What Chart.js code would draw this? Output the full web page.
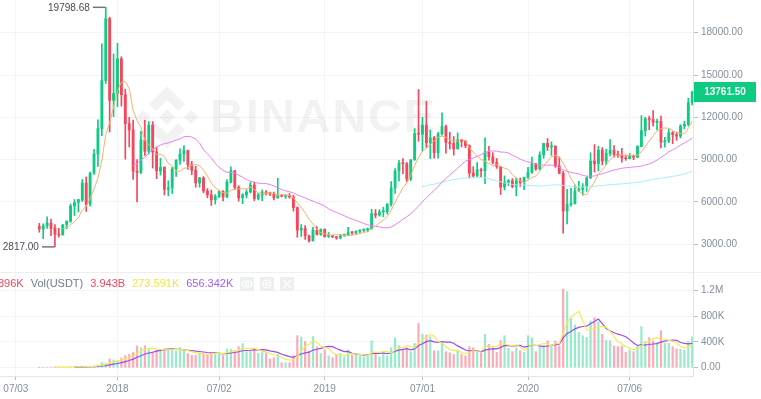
<!DOCTYPE html>
<html><head><meta charset="utf-8">
<script src="https://cdn.jsdelivr.net/npm/chart.js@4.4.1/dist/chart.umd.min.js"></script>
<style>
html,body{margin:0;padding:0;background:#fff;width:761px;height:399px;overflow:hidden}
.pane{position:absolute;left:0;width:761px}
</style></head><body>
<div class="pane" style="top:0;height:272px"><canvas id="pc" width="761" height="272"></canvas></div>
<div class="pane" style="top:272px;height:127px"><canvas id="vc" width="761" height="127"></canvas></div>
<script>
// ---- data (weekly BTC/USDT candles, first week starts 2017-08-14) ----
const firstWeek = '2017-08-14';
const opens = [4261,4069,4310,4505,4153,3690,3660,4400,4640,5710,
5975,6133,7345,5860,8057,9400,11200,14600,19000,13200,
13700,16150,13600,11550,11100,8180,8100,10400,9600,11450,
9550,8200,8450,6900,7000,8350,8950,9400,9650,8650,
8250,7350,7700,6780,6500,6150,6400,6750,6360,7400,
8220,7030,6300,6490,6700,7200,6250,6500,6700,6630,
6590,6300,6450,6400,6450,6350,5600,4000,4140,3600,
3250,4000,3700,4050,3550,3555,3540,3460,3650,3660,
3830,3810,3920,3990,4010,4100,5170,5070,5300,5310,
5830,7000,8200,8750,8720,7630,8990,10850,10800,11450,
10200,10550,9500,10820,11350,10220,10140,9760,10400,10300,
10000,8050,7850,8280,8220,9550,9200,8810,8500,7050,
7420,7500,7100,7510,7390,7760,8110,8700,8350,9340,
10150,9900,9950,8550,8040,5360,5820,5880,6780,6900,
7120,7700,8900,8720,9680,8900,9440,9660,9370,9290,
9120,9070,9250,9170,9930,11060,11900,11850,11650,11700,
10250,10330,10920,10770,10670,11380,11500,13030];
const highs = [4485,4453,4939,4788,4395,4123,4406,4658,5856,6171,
6190,7590,7777,8123,9736,11825,17204,19798.68,19100,16500,
17250,16300,14000,12000,11800,9000,11000,11780,11700,11700,
9900,9100,8500,7500,8450,9000,9760,9990,9680,8880,
8530,7750,7800,6950,6850,6530,6800,6800,7580,8500,
8230,7150,6600,6880,7410,7400,6610,6850,6800,6700,
6700,7680,6540,6500,6600,6480,5650,4400,4330,3650,
4200,4250,4100,4100,3840,3640,3560,3700,3720,4200,
3900,3950,4050,4100,4150,5480,5470,5460,5630,5900,
7450,8370,8950,9080,8800,9000,11200,13970,12000,13130,
11100,10650,10930,12320,11450,10950,10640,10900,10450,10360,
10050,8500,8800,8400,10540,9940,9500,9080,8520,7850,
7600,7660,7700,7700,7600,8450,9190,8750,9560,10160,
10500,10260,9990,9200,8180,6900,6980,7200,7470,7300,
7780,9490,10070,9950,9850,9740,10430,10000,9600,9800,
9330,9440,9340,10000,12120,12000,12090,12480,11870,12090,
10580,11180,10990,10950,11490,11730,13350,13860];
const lows = [3850,3400,4124,3603,2817,3506,3654,4110,4550,5038,
5287,6030,5325,5700,7950,8520,10700,14400,10961,12050,
12750,12800,9035,9900,7600,6000,8000,9300,9400,8400,
7650,7900,6500,6430,6600,7820,8660,8880,8300,7930,
7050,7050,6650,6300,5755,5850,6300,6070,6300,7350,
6880,6060,5880,6280,6640,6100,6150,6100,6500,6450,
6150,6250,6360,6250,6270,5350,3500,3550,3350,3157,
3230,3650,3630,3500,3480,3470,3350,3380,3560,3650,
3700,3700,3800,3900,3880,4070,4870,4990,4950,5150,
5700,6600,7500,8000,7450,7500,8950,10300,9600,9860,
9070,9110,9100,10740,9460,9750,9320,9760,9900,9850,
7700,7710,7780,7800,7300,8970,8700,8380,6530,6850,
7160,7000,6430,7100,6870,7670,8030,8240,8270,9100,
9640,9300,8450,8000,3782,4450,5700,5860,6750,6480,
6750,7670,8120,8200,8630,8640,9260,9170,9150,8830,
8950,9050,9000,9150,9920,10670,11120,11380,11100,9825,
9880,10200,10130,10370,10530,11180,11400,12880];
const closes = [4086,4310,4509,4130,3700,3660,4378,4640,5710,5950,
6170,7345,5811,8040,9400,11200,14600,19000,13200,13700,
16150,13600,11550,11100,8180,8100,10400,9600,11450,9550,
8200,8450,6900,7000,8350,8950,9400,9650,8650,8250,
7350,7700,6780,6500,6150,6400,6750,6360,7400,8220,
7030,6300,6490,6700,7200,6250,6500,6700,6630,6590,
6300,6450,6400,6450,6350,5600,4000,4140,3600,3250,
4000,3700,4050,3550,3555,3540,3460,3650,3660,3830,
3810,3920,3990,4010,4100,5170,5070,5300,5310,5830,
7000,8200,8750,8720,7630,8990,10850,10800,11450,10200,
10550,9500,10820,11350,10220,10140,9760,10400,10300,10000,
8050,7850,8280,8220,9550,9200,8810,8500,7050,7420,
7500,7100,7510,7390,7760,8110,8700,8350,9340,10150,
9900,9950,8550,8040,5360,5820,5880,6780,6900,7120,
7700,8900,8720,9680,8900,9440,9660,9370,9290,9120,
9070,9250,9170,9930,11060,11900,11850,11650,11700,10250,
10330,10920,10770,10670,11380,11500,13030,13761.5];
// weekly volume in thousands of BTC
const volumes = [4,5,6,8,15,10,8,10,14,12,16,20,24,22,
28,42,78,70,135,120,108,150,186,206,237,336,310,340,280,245,270,285,295,285,270,260,310,260,220,190,190,230,
222,206,222,237,237,186,290,284,264,326,372,248,264,300,222,237,232,135,155,206,78,78,78,186,496,476,403,250,485,326,222,274,186,155,206,222,170,274,197,197,186,170,197,
414,237,170,237,186,310,465,341,274,310,248,377,687,516,507,480,264,264,388,248,232,206,274,206,186,326,310,248,222,516,361,310,237,419,496,299,248,310,264,237,496,465,248,
330,350,414,350,414,341,
1220,1178,764,662,547,496,470,724,775,713,516,419,419,336,326,336,237,274,248,336,636,403,465,414,388,574,377,377,326,290,284,274,403,480];
const tickDates = ['2017-07-03','2018-01-01','2018-07-02','2019-01-07','2019-07-01','2020-01-06','2020-07-06'];
const tickLabels = ['07/03','2018','07/02','2019','07/01','2020','07/06'];
const priceTicks = [3000,6000,9000,12000,15000,18000];
const volTicks = [0,400,800,1200];
const volTickLabels = ['0.00','400K','800K','1.2M'];
const legendTexts = ['896K','Vol(USDT)','3.943B','273.591K','656.342K'];

// ---- styling ----
const UP='#0ecb81', DOWN='#f6465d';
const UPV='rgba(14,203,129,0.42)', DOWNV='rgba(246,70,93,0.45)';
const AXIS_TXT='#848e9c', GRID='#f3f4f6';
const legendColors=[DOWN,'#707a8a',DOWN,'#efe640','#a15ff5'];
Chart.defaults.font.family="'Liberation Sans', Arial, sans-serif";
Chart.defaults.font.size=10;
Chart.defaults.color=AXIS_TXT;

const DAY=86400000;
const tickPos = tickDates.map(d => (Date.parse(d)-Date.parse(firstWeek))/(7*DAY));
const N = closes.length;
const up = closes.map((c,i)=>c>=opens[i]);
function sma(arr,n){return arr.map((_,i)=> i<n-1?null:arr.slice(i-n+1,i+1).reduce((a,b)=>a+b,0)/n);}
const pts = arr => arr.map((v,i)=>({x:i,y:v}));
const XMIN=-10.05, XMAX=167.2;

function noPad(s){s.paddingLeft=0;s.paddingRight=0;s.paddingTop=0;s.paddingBottom=0;}
const lineDs = (data,color,w) => ({type:'line',data,borderColor:color,borderWidth:w||1,pointRadius:0,fill:false,tension:0,order:0,spanGaps:false});

// ---- price chart ----
const pricePlugin = {
  id:'priceDeco',
  beforeDatasetsDraw(chart){
    const ctx=chart.ctx; ctx.save();
    ctx.fillStyle='rgba(0,0,0,0.05)';
    const cx=167, cy=117;
    const dia=(x,y,r)=>{ctx.beginPath();ctx.moveTo(x,y-r);ctx.lineTo(x+r,y);ctx.lineTo(x,y+r);ctx.lineTo(x-r,y);ctx.closePath();ctx.fill();};
    dia(cx,cy,8); dia(cx-24,cy,7); dia(cx+24,cy,7);
    const chev=(s)=>{ctx.beginPath();ctx.moveTo(cx,cy+s*31);ctx.lineTo(cx+18,cy+s*13);ctx.lineTo(cx+11,cy+s*6);ctx.lineTo(cx,cy+s*17);ctx.lineTo(cx-11,cy+s*6);ctx.lineTo(cx-18,cy+s*13);ctx.closePath();ctx.fill();};
    chev(-1); chev(1);
    ctx.font="bold 47px 'Liberation Sans', Arial, sans-serif";
    ctx.textBaseline='alphabetic'; ctx.textAlign='left';
    const word='BINANCE', chars=word.split('');
    const ws=chars.map(c=>ctx.measureText(c).width);
    const tot=ws.reduce((a,b)=>a+b,0);
    const gap=Math.max(0,(225-tot)/(chars.length-1));
    let x=210;
    chars.forEach((c,k)=>{ctx.fillText(c,x,132);x+=ws[k]+gap;});
    ctx.restore();
  },
  afterDraw(chart){
    const ctx=chart.ctx, xs=chart.scales.x, ys=chart.scales.y;
    ctx.save();
    ctx.font="10px 'Liberation Sans', Arial, sans-serif";
    ctx.textBaseline='middle'; ctx.textAlign='right';
    const hi=Math.max(...highs), hiI=highs.indexOf(hi);
    const lo=Math.min(...lows), loI=lows.indexOf(lo);
    [[hi,hiI],[lo,loI]].forEach(([v,i])=>{
      const x=xs.getPixelForValue(i), y=ys.getPixelForValue(v);
      ctx.strokeStyle='#6f7580'; ctx.lineWidth=1.5;
      ctx.beginPath(); ctx.moveTo(x-13,y); ctx.lineTo(x-0.5,y); ctx.stroke();
      ctx.fillStyle='#474d57'; ctx.fillText(v.toFixed(2),x-16,y+0.5);
    });
    const last=closes[N-1], y=ys.getPixelForValue(last);
    const x0=chart.chartArea.right+1;
    ctx.fillStyle=up[N-1]?UP:DOWN; ctx.fillRect(x0,Math.round(y-10),62,20);
    ctx.fillStyle='#fff'; ctx.textAlign='center';
    ctx.font="bold 10px 'Liberation Sans', Arial, sans-serif";
    ctx.fillText(last.toFixed(2),x0+31,Math.round(y)+0.5);
    ctx.restore();
  }
};

new Chart(document.getElementById('pc'),{
  type:'bar',
  data:{datasets:[
    lineDs(pts(sma(closes,7)),'#f6b16b'),
    lineDs(pts(sma(closes,25)),'#ec7ff0'),
    lineDs(pts(sma(closes,99)),'#a6eef4'),
    {label:'wick',data:lows.map((l,i)=>({x:i,y:[l,highs[i]]})),backgroundColor:up.map(u=>u?UP:DOWN),barThickness:1,grouped:false,order:2},
    {label:'body',data:opens.map((o,i)=>({x:i,y:[o,closes[i]]})),backgroundColor:up.map(u=>u?UP:DOWN),barThickness:2.2,minBarLength:1,grouped:false,order:1}
  ]},
  options:{
    responsive:false,animation:false,layout:{padding:0},
    plugins:{legend:{display:false},tooltip:{enabled:false}},
    scales:{
      x:{type:'linear',min:XMIN,max:XMAX,offset:false,
         ticks:{display:false},grid:{color:GRID,drawTicks:false,offset:false},border:{display:false},
         afterBuildTicks:s=>{s.ticks=tickPos.map(v=>({value:v}));},
         afterFit:s=>{s.height=0;noPad(s);}},
      y:{position:'right',min:1036,max:20318,
         ticks:{color:AXIS_TXT,padding:3,callback:v=>Number(v).toFixed(2)},
         grid:{color:GRID,tickColor:'#b7bdc6',tickLength:5},border:{color:'#e3e5e8'},
         afterBuildTicks:s=>{s.ticks=priceTicks.map(v=>({value:v}));},
         afterFit:s=>{s.width=68;noPad(s);}}
    }
  },
  plugins:[pricePlugin]
});

// ---- volume chart ----
const volPlugin = {
  id:'volDeco',
  afterDraw(chart){
    const ctx=chart.ctx; ctx.save();
    ctx.strokeStyle='#eceef1'; ctx.lineWidth=1;
    ctx.beginPath(); ctx.moveTo(0,0.5); ctx.lineTo(761,0.5); ctx.stroke();
    ctx.font="11px 'Liberation Sans', Arial, sans-serif";
    ctx.textBaseline='middle'; ctx.textAlign='left';
    let x=-2;
    legendTexts.forEach((t,i)=>{ctx.fillStyle=legendColors[i];ctx.fillText(t,x,11.5);x+=ctx.measureText(t).width+7;});
    const bx=[240,260,280];
    bx.forEach((b,k)=>{
      ctx.fillStyle='#eceef0'; ctx.fillRect(b,5,14,14);
      ctx.strokeStyle='#ffffff'; ctx.lineWidth=1.2; ctx.beginPath();
      const cx=b+7, cy=12;
      if(k===0){ctx.ellipse(cx,cy,5,3,0,0,Math.PI*2);ctx.stroke();ctx.beginPath();ctx.arc(cx,cy,1.5,0,Math.PI*2);ctx.stroke();}
      else if(k===1){ctx.arc(cx,cy,4,0,Math.PI*2);ctx.stroke();ctx.beginPath();ctx.arc(cx,cy,1.6,0,Math.PI*2);ctx.stroke();}
      else {ctx.moveTo(cx-4,cy-4);ctx.lineTo(cx+4,cy+4);ctx.moveTo(cx+4,cy-4);ctx.lineTo(cx-4,cy+4);ctx.stroke();}
    });
    ctx.restore();
  }
};

new Chart(document.getElementById('vc'),{
  type:'bar',
  data:{datasets:[
    lineDs(pts(sma(volumes,5)),'#f3ec55',1.2),
    lineDs(pts(sma(volumes,10)),'#9a4bf0',1.2),
    {label:'vol',data:pts(volumes),backgroundColor:up.map(u=>u?UPV:DOWNV),barThickness:1.6,grouped:false,order:1}
  ]},
  options:{
    responsive:false,animation:false,layout:{padding:0},
    plugins:{legend:{display:false},tooltip:{enabled:false}},
    scales:{
      x:{type:'linear',min:XMIN,max:XMAX,offset:false,
         ticks:{color:AXIS_TXT,padding:3,maxRotation:0,autoSkip:false,callback:(v,i)=>tickLabels[i]},
         grid:{color:GRID,tickColor:'#b7bdc6',tickLength:4,offset:false},border:{color:'#e3e5e8'},
         afterBuildTicks:s=>{s.ticks=tickPos.map(v=>({value:v}));},
         afterFit:s=>{s.height=23;noPad(s);}},
      y:{position:'right',min:-128.7,max:1483.7,
         ticks:{color:AXIS_TXT,padding:3,callback:(v,i)=>volTickLabels[i]},
         grid:{color:GRID,tickColor:'#b7bdc6',tickLength:5},border:{color:'#e3e5e8'},
         afterBuildTicks:s=>{s.ticks=volTicks.map(v=>({value:v}));},
         afterFit:s=>{s.width=68;noPad(s);}}
    }
  },
  plugins:[volPlugin]
});
</script>
</body></html>
